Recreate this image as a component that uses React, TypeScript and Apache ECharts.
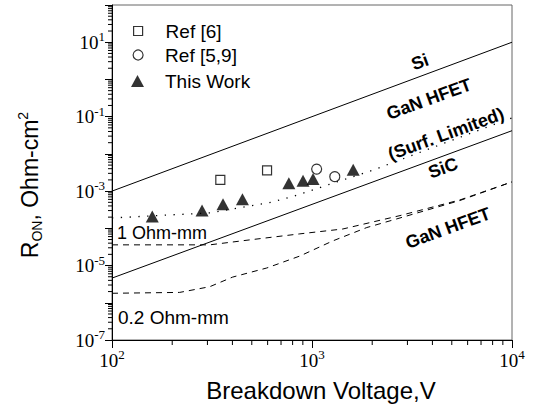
import React, { useEffect, useRef } from 'react';
import * as echarts from 'echarts';

// ---- data (breakdown voltage V, specific on-resistance Ohm-cm^2) ----
const siLimit = [[100, 1.0e-3], [1000, 0.1], [10000, 10]];
const sicLimit = [[100, 4.6e-6], [1000, 4.4e-4], [10000, 0.042]];
const ganContact1 = [[100, 3.6e-5], [308, 3.6e-5], [489, 4.9e-5], [869, 7.1e-5], [1426, 9.6e-5], [2754, 2.2e-4], [5495, 5.8e-4], [10000, 1.77e-3]];
const ganContact02 = [[100, 1.8e-6], [218, 1.9e-6], [308, 2.7e-6], [401, 4.9e-6], [594, 8.6e-6], [869, 1.8e-5], [1271, 4.6e-5], [1879, 1.05e-4], [2754, 1.9e-4], [5495, 5.6e-4], [10000, 1.77e-3]];
const ganSurfLimited = [[100, 1.9e-4], [308, 2.6e-4], [635, 5.1e-4], [850, 7.9e-4], [1240, 1.56e-3], [2030, 3.7e-3], [4350, 1.75e-2], [10000, 0.093]];
const ref6 = [[348, 2.0e-3], [596, 3.6e-3]];
const ref59 = [[1055, 3.9e-3], [1300, 2.45e-3]];
const thisWork = [[159, 2.07e-4], [282, 3.0e-4], [359, 4.45e-4], [449, 6.05e-4], [766, 1.63e-3], [902, 1.91e-3], [1012, 2.13e-3], [1607, 3.72e-3]];

const xDecades = [100, 1000];
const yDecades = [1e-7, 1e-6, 1e-5, 1e-4, 1e-3, 1e-2, 1e-1, 1, 10];
const minorMultipliers = [2, 3, 4, 5, 6, 7, 8, 9];

const SANS = '"Liberation Sans", Arial, sans-serif';
const SERIF = '"Liberation Serif", "Times New Roman", serif';

const tickRich = {
  b: { fontFamily: SERIF, fontSize: 19, lineHeight: 24, color: '#000' },
  s: { fontFamily: SERIF, fontSize: 13, lineHeight: 13, verticalAlign: 'top', color: '#000' },
};

function expLabel(v: number, onlyOdd: boolean) {
  const e = Math.round(Math.log10(v));
  if (onlyOdd && e % 2 === 0) return '';
  return `{b|10}{s|${e}}`;
}

export default function App() {
  const ref = useRef<HTMLDivElement>(null);
  useEffect(() => {
    if (!ref.current) return;
    const chart = echarts.init(ref.current, null, { renderer: 'svg' });

    const xMinor: number[][] = [];
    xDecades.forEach((d) => minorMultipliers.forEach((m) => xMinor.push([d * m, 1e-7])));
    const yMinor: number[][] = [];
    yDecades.forEach((d) => minorMultipliers.forEach((m) => yMinor.push([100, d * m])));

    const lineBase = { type: 'line', showSymbol: false, symbol: 'none', silent: true, z: 2 };

    const legendCommon = {
      orient: 'vertical',
      padding: 0,
      selectedMode: false,
      textStyle: { fontFamily: SANS, fontSize: 19, lineHeight: 20, color: '#000' },
    };

    chart.setOption({
      animation: false,
      backgroundColor: '#fff',
      grid: { left: 112, right: 23, top: 5, bottom: 74, show: true, borderColor: '#666', borderWidth: 1 },
      xAxis: {
        type: 'log',
        logBase: 10,
        min: 100,
        max: 10000,
        interval: 1,
        axisLine: { show: true, lineStyle: { color: '#000', width: 1 } },
        axisTick: { show: true, inside: false, length: 8, lineStyle: { color: '#000' } },
        splitLine: { show: false },
        axisLabel: { interval: 0, margin: 8, formatter: (v: number) => expLabel(v, false), rich: tickRich },
      },
      yAxis: {
        type: 'log',
        logBase: 10,
        min: 1e-7,
        max: 100,
        interval: 1,
        axisLine: { show: true, lineStyle: { color: '#000', width: 1 } },
        axisTick: { show: true, inside: false, length: 7, lineStyle: { color: '#000' } },
        splitLine: { show: false },
        axisLabel: { interval: 0, margin: 7, formatter: (v: number) => expLabel(v, true), rich: tickRich },
      },
      legend: [
        { ...legendCommon, data: [{ name: 'Ref [6]', icon: 'rect' }], left: 133, top: 21, itemWidth: 9, itemHeight: 9,
          itemStyle: { color: '#fff', borderColor: '#000', borderWidth: 1.2 },
          textStyle: { ...legendCommon.textStyle, padding: [0, 0, 0, 18] } },
        { ...legendCommon, data: [{ name: 'Ref [5,9]', icon: 'circle' }], left: 132.5, top: 45, itemWidth: 10, itemHeight: 10,
          itemStyle: { color: '#fff', borderColor: '#000', borderWidth: 1.2 },
          textStyle: { ...legendCommon.textStyle, padding: [0, 0, 0, 17] } },
        { ...legendCommon, data: [{ name: 'This Work', icon: 'triangle' }], left: 131, top: 71, itemWidth: 13, itemHeight: 12,
          itemStyle: { color: '#000', borderWidth: 0 },
          textStyle: { ...legendCommon.textStyle, padding: [0, 0, 0, 16] } },
      ],
      series: [
        { ...lineBase, name: 'Si', data: siLimit, lineStyle: { color: '#000', width: 1 } },
        { ...lineBase, name: 'SiC', data: sicLimit, lineStyle: { color: '#000', width: 1 } },
        { ...lineBase, name: 'GaN HFET 1 Ohm-mm', data: ganContact1, lineStyle: { color: '#000', width: 1, type: [6, 5] } },
        { ...lineBase, name: 'GaN HFET 0.2 Ohm-mm', data: ganContact02, lineStyle: { color: '#000', width: 1, type: [6, 5] } },
        { ...lineBase, name: 'GaN HFET (Surf. Limited)', data: ganSurfLimited, lineStyle: { color: '#000', width: 1.3, type: [1.3, 7.5] } },
        { type: 'scatter', name: 'Ref [6]', data: ref6, symbol: 'rect', symbolSize: 9, z: 5,
          itemStyle: { color: '#fff', borderColor: '#000', borderWidth: 1.2 } },
        { type: 'scatter', name: 'Ref [5,9]', data: ref59, symbol: 'circle', symbolSize: 10, z: 5,
          itemStyle: { color: '#fff', borderColor: '#000', borderWidth: 1.2 } },
        { type: 'scatter', name: 'This Work', data: thisWork, symbol: 'triangle', symbolSize: [13, 12], z: 6,
          itemStyle: { color: '#000' } },
        {
          type: 'custom', name: 'xMinorTicks', data: xMinor, clip: false, silent: true, z: 3,
          renderItem: (_p: any, api: any) => {
            const p = api.coord([api.value(0), api.value(1)]);
            return { type: 'line', shape: { x1: p[0], y1: p[1], x2: p[0], y2: p[1] + 5 }, style: { stroke: '#000', lineWidth: 1 } };
          },
        },
        {
          type: 'custom', name: 'yMinorTicks', data: yMinor, clip: false, silent: true, z: 3,
          renderItem: (_p: any, api: any) => {
            const p = api.coord([api.value(0), api.value(1)]);
            return { type: 'line', shape: { x1: p[0] - 4, y1: p[1], x2: p[0], y2: p[1] }, style: { stroke: '#000', lineWidth: 1 } };
          },
        },
      ],
      graphic: [
        { type: 'text', x: 420, y: 62, rotation: 0.35, style: { text: 'Si', fontFamily: SANS, fontWeight: 'bold', fontSize: 18, fill: '#000', align: 'center', verticalAlign: 'middle' } },
        { type: 'text', x: 429, y: 99, rotation: 0.35, style: { text: 'GaN HFET', fontFamily: SANS, fontWeight: 'bold', fontSize: 18, fill: '#000', align: 'center', verticalAlign: 'middle' } },
        { type: 'text', x: 446, y: 134, rotation: 0.35, style: { text: '(Surf. Limited)', fontFamily: SANS, fontWeight: 'bold', fontSize: 18, fill: '#000', align: 'center', verticalAlign: 'middle' } },
        { type: 'text', x: 443, y: 168, rotation: 0.35, style: { text: 'SiC', fontFamily: SANS, fontWeight: 'bold', fontSize: 18, fill: '#000', align: 'center', verticalAlign: 'middle' } },
        { type: 'text', x: 448, y: 228, rotation: 0.35, style: { text: 'GaN HFET', fontFamily: SANS, fontWeight: 'bold', fontSize: 18, fill: '#000', align: 'center', verticalAlign: 'middle' } },
        { type: 'text', x: 117, y: 233, style: { text: '1 Ohm-mm', fontFamily: SANS, fontSize: 18, fill: '#000', align: 'left', verticalAlign: 'middle' } },
        { type: 'text', x: 118, y: 317, style: { text: '0.2 Ohm-mm', fontFamily: SANS, fontSize: 19, fill: '#000', align: 'left', verticalAlign: 'middle' } },
        { type: 'text', x: 321, y: 390, style: { text: 'Breakdown Voltage,V', fontFamily: SANS, fontSize: 24, fill: '#000', align: 'center', verticalAlign: 'middle' } },
        {
          type: 'text', x: 30, y: 185, rotation: Math.PI / 2,
          style: {
            text: '{m|R}{sub|ON}{m|, Ohm-cm}{sup|2}',
            align: 'center', verticalAlign: 'middle',
            rich: {
              m: { fontFamily: SANS, fontSize: 23, lineHeight: 28, fill: '#000', color: '#000' },
              sub: { fontFamily: SANS, fontSize: 14, lineHeight: 14, verticalAlign: 'bottom', fill: '#000', color: '#000' },
              sup: { fontFamily: SANS, fontSize: 14, lineHeight: 10, verticalAlign: 'top', fill: '#000', color: '#000' },
            },
          },
        },
      ],
    });
    return () => chart.dispose();
  }, []);
  return <div ref={ref} style={{ position: 'fixed', left: 0, top: 0, width: 535, height: 414 }} />;
}
